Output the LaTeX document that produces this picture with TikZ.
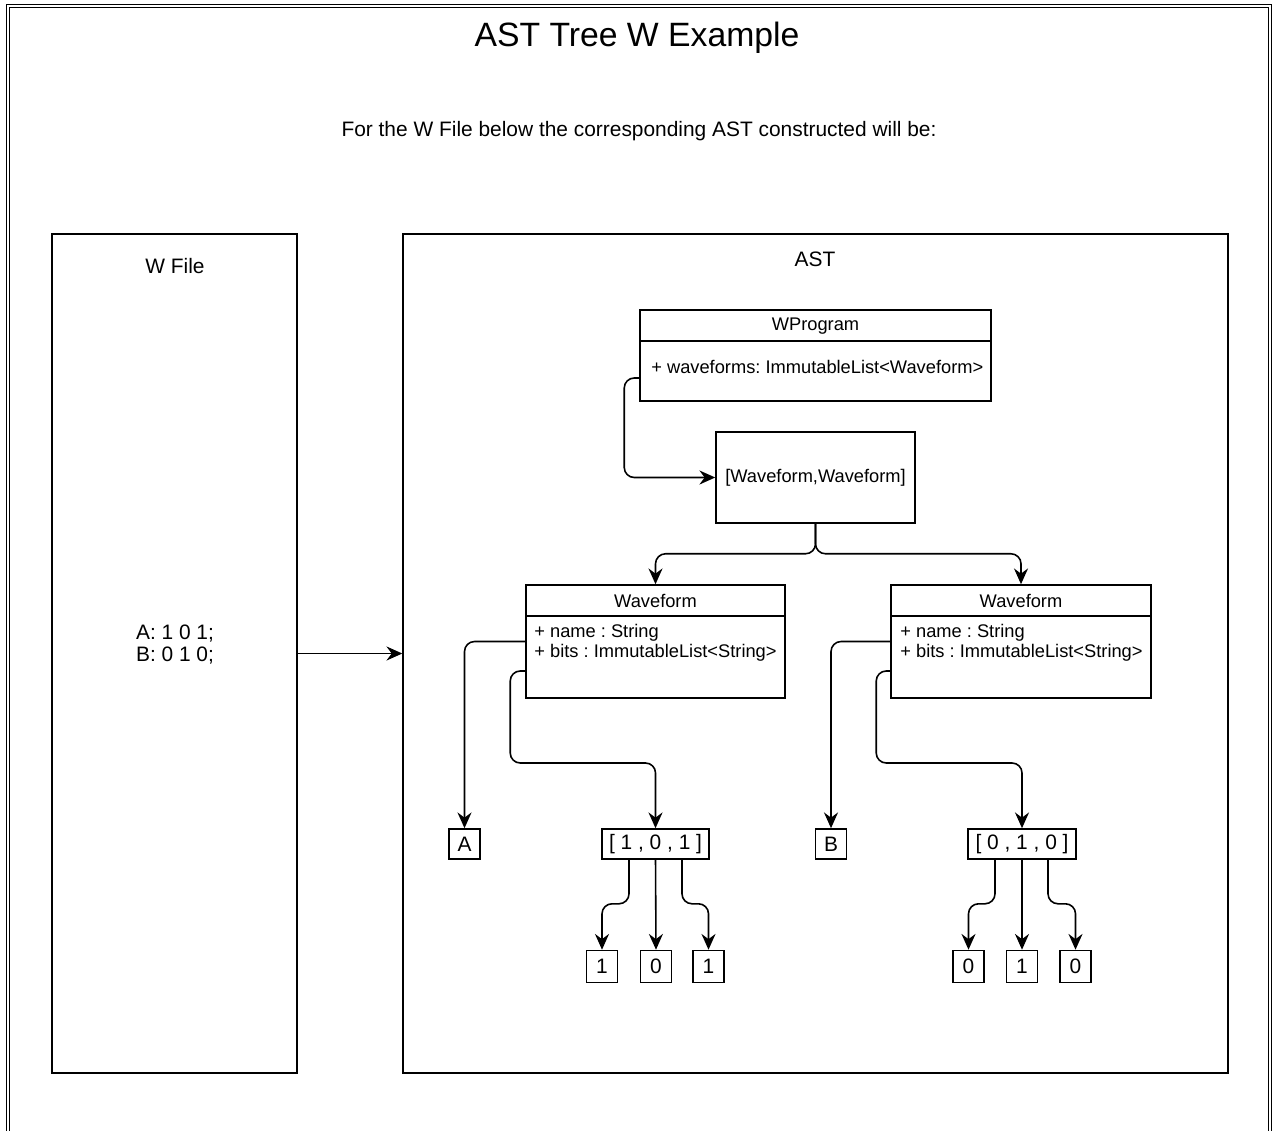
\documentclass[tikz,border=0pt]{standalone}
\usepackage{fontspec}
\setmainfont{Liberation Sans}
\usepackage{tikz}
\usetikzlibrary{positioning,calc,arrows.meta}
\frenchspacing

\tikzset{
    box/.style={draw, line width=0.9pt, inner sep=0pt},
    lbl/.style={font=\fontsize{11.9}{12.5}\selectfont},
    small/.style={font=\fontsize{10.4}{11.4}\selectfont},
    attr/.style={small, anchor=west, align=left, inner sep=0pt},
    bit/.style={box, lbl, minimum width=0.62cm, minimum height=0.64cm},
    wire/.style={->, line width=0.9pt, rounded corners=0.2cm},
}

\begin{document}
\begin{tikzpicture}[x=0.02cm, y=-0.02cm, >={Stealth[length=9pt,width=8pt,inset=3pt]}]
    \useasboundingbox (0,0) rectangle (1273,1131);
    % page frame
    \draw[double, double distance=0.05cm, line width=0.6pt] (8,6) rectangle (1270,1135);

    \node[font=\fontsize{19.2}{23}\selectfont] (title) at (637,38) {AST Tree W Example};
    \node[lbl] (intro) at (639,131) {For the W File below the corresponding AST constructed will be:};

    % W file
    \node[box, minimum width=4.9cm, minimum height=16.78cm] (wfile) at (174.5,653.5) {};
    \node[lbl] (wfilename) at (175,266) {W File};
    \node[lbl, align=center] (wsrc) at (175,645) {A: 1 0 1;\\B: 0 1 0;};

    % AST
    \node[box, minimum width=16.5cm, minimum height=16.78cm] (ast) at (815.5,653.5) {};
    \node[lbl] (astname) at (815,259) {AST};
    \draw[wire] (wfile.east) -- (ast.west);

    % WProgram class
    \node[box, minimum width=7.02cm, minimum height=1.82cm] (wprog) at (815.5,355.5) {};
    \draw[line width=0.9pt] ([yshift=-0.64cm]wprog.north west) -- ([yshift=-0.64cm]wprog.north east);
    \node[small] (wprogname) at (815.5,326) {WProgram};
    \node[attr] (wprogattr) at (651,367) {+ waveforms: ImmutableList<Waveform>};

    \node[box, small, minimum width=3.98cm, minimum height=1.82cm] (list) at (815.5,477.5) {[Waveform,Waveform]};
    \draw[wire] ([yshift=-0.45cm]wprog.west) -- ++(-15,0) |- (list.west);

    % Waveform classes
    \node[box, minimum width=5.18cm, minimum height=2.26cm] (wfa) at (655.5,641.5) {};
    \draw[line width=0.9pt] ([yshift=-0.64cm]wfa.north west) -- ([yshift=-0.64cm]wfa.north east);
    \node[small] (wfaname) at (655.5,601) {Waveform};
    \node[attr] (wfaattr) at (534,643) {+ name : String\\+ bits : ImmutableList<String>};

    \node[box, minimum width=5.2cm, minimum height=2.26cm] (wfb) at (1021,641.5) {};
    \draw[line width=0.9pt] ([yshift=-0.64cm]wfb.north west) -- ([yshift=-0.64cm]wfb.north east);
    \node[small] (wfbname) at (1021,601) {Waveform};
    \node[attr] (wfbattr) at (900,643) {+ name : String\\+ bits : ImmutableList<String>};

    \draw[wire] (list.south) -- ++(0,30) -| (wfa.north);
    \draw[wire] (list.south) -- ++(0,30) -| (wfb.north);

    % names and bit lists
    \node[bit, minimum height=0.6cm] (namea) at (464.5,844) {A};
    \node[bit, minimum height=0.6cm] (nameb) at (831,844) {B};
    \node[box, lbl, minimum width=2.14cm, minimum height=0.6cm] (bitsa) at (655.5,844) {[ 1 , 0 , 1 ]};
    \node[box, lbl, minimum width=2.16cm, minimum height=0.6cm] (bitsb) at (1022,844) {[ 0 , 1 , 0 ]};

    \draw[wire] (wfa.west) -| (namea.north);
    \draw[wire] ([yshift=-0.59cm]wfa.west) -- ++(-15,0) -- ++(0,92) -| (bitsa.north);
    \draw[wire] (wfb.west) -| (nameb.north);
    \draw[wire] ([yshift=-0.59cm]wfb.west) -- ++(-14,0) -- ++(0,92) -| (bitsb.north);

    % single bits
    \node[bit] (bita1) at (602,966.5) {1};
    \node[bit] (bita2) at (656,966.5) {0};
    \node[bit] (bita3) at (708.5,966.5) {1};
    \node[bit] (bitb1) at (968.5,966.5) {0};
    \node[bit] (bitb2) at (1022,966.5) {1};
    \node[bit] (bitb3) at (1075.5,966.5) {0};

    \draw[wire] ([xshift=-0.53cm]bitsa.south) -- ++(0,44) -| (bita1.north);
    \draw[wire] (bitsa.south) -- (bita2.north);
    \draw[wire] ([xshift=0.53cm]bitsa.south) -- ++(0,44) -| (bita3.north);
    \draw[wire] ([xshift=-0.54cm]bitsb.south) -- ++(0,44) -| (bitb1.north);
    \draw[wire] (bitsb.south) -- (bitb2.north);
    \draw[wire] ([xshift=0.52cm]bitsb.south) -- ++(0,44) -| (bitb3.north);
\end{tikzpicture}
\end{document}
